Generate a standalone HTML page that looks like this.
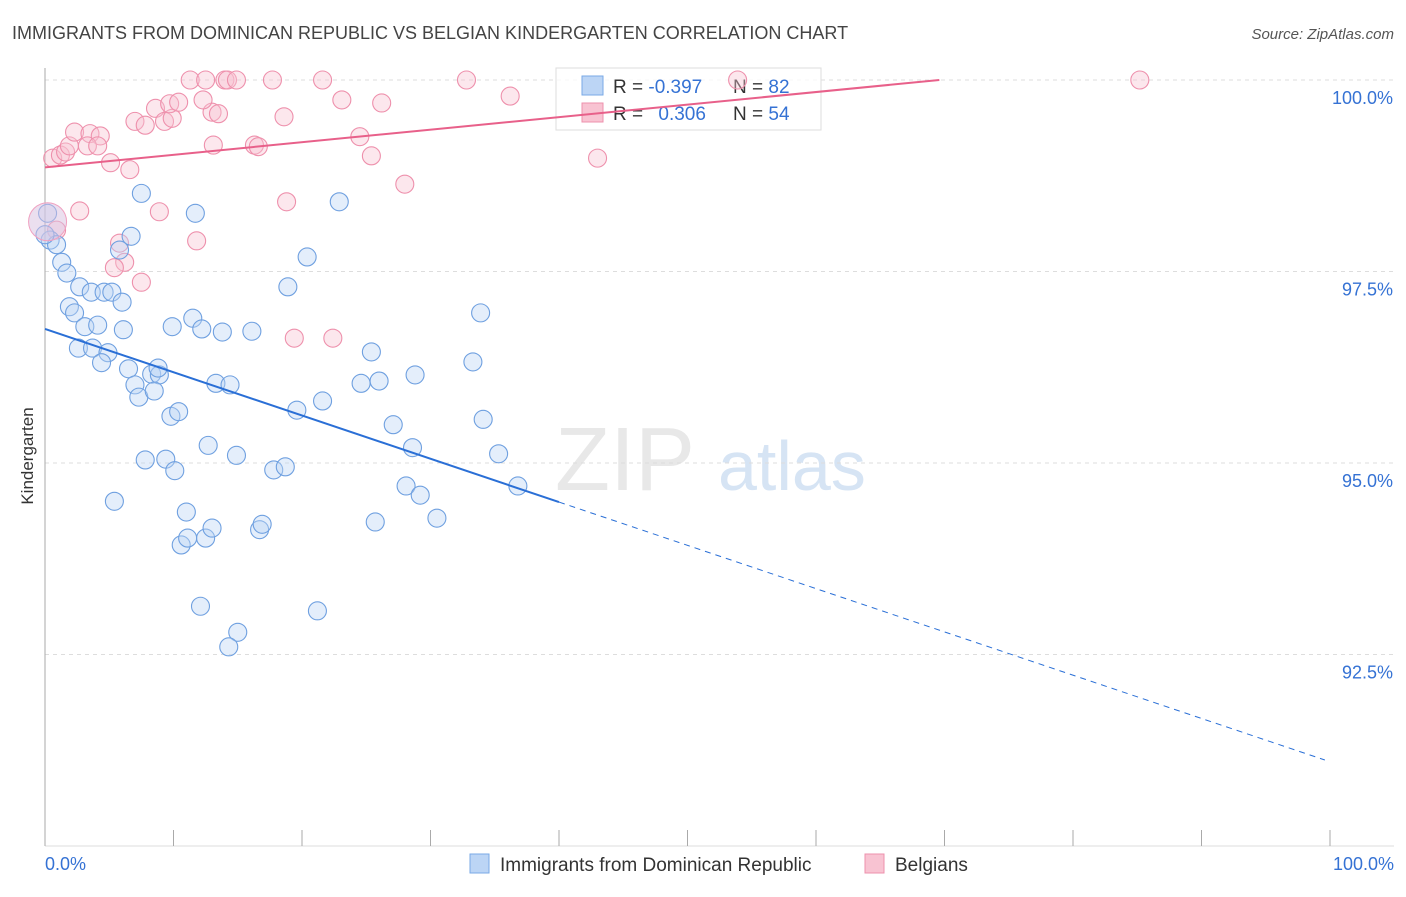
<!DOCTYPE html>
<html><head><meta charset="utf-8"><style>
body{margin:0;background:#fff;font-family:"Liberation Sans",sans-serif;}
svg text{font-family:"Liberation Sans",sans-serif;}
</style></head><body>
<svg id="chart" width="1406" height="892" xmlns="http://www.w3.org/2000/svg">
<text x="12" y="39" font-size="18" fill="#444">IMMIGRANTS FROM DOMINICAN REPUBLIC VS BELGIAN KINDERGARTEN CORRELATION CHART</text>
<text x="1394" y="39" font-size="15" fill="#555" text-anchor="end" font-style="italic">Source: ZipAtlas.com</text>
<text x="33" y="456" font-size="17" fill="#333" text-anchor="middle" transform="rotate(-90 33 456)">Kindergarten</text>
<g><text x="555" y="490" font-size="90" fill="#e8e8e8" font-family="Liberation Serif">ZIP</text><text x="718" y="490" font-size="70" fill="#d6e4f4">atlas</text></g>
<g id="grid"></g>
<g>
<rect x="556" y="68" width="265" height="62" fill="#fff" fill-opacity="0.75" stroke="#ddd"/>
<rect x="582" y="76" width="21" height="19" fill="#bcd5f5" stroke="#7aa9e6"/>
<rect x="582" y="103" width="21" height="19" fill="#f8c3d2" stroke="#ee90ac"/>
<text x="613" y="93" font-size="19" fill="#333">R = <tspan fill="#3572d4">-0.397</tspan></text>
<text x="733" y="93" font-size="19" fill="#333">N = <tspan fill="#3572d4">82</tspan></text>
<text x="613" y="120" font-size="19" fill="#333">R = <tspan fill="#3572d4" dx="10">0.306</tspan></text>
<text x="733" y="120" font-size="19" fill="#333">N = <tspan fill="#3572d4">54</tspan></text>
</g>
<g id="marks"></g><g id="lines"></g>
<g>
<rect x="470" y="854" width="19" height="19" fill="#bcd5f5" stroke="#7aa9e6"/>
<text x="500" y="871" font-size="19" fill="#333">Immigrants from Dominican Republic</text>
<rect x="865" y="854" width="19" height="19" fill="#f8c3d2" stroke="#ee90ac"/>
<text x="895" y="871" font-size="19" fill="#333">Belgians</text>
</g>
<text x="45" y="870" font-size="18" fill="#3572d4">0.0%</text>
<text x="1394" y="870" font-size="18" fill="#3572d4" text-anchor="end">100.0%</text>
</svg>
<script>
const yTicks=[100,97.5,95,92.5];
const yTickLabels=["100.0%","97.5%","95.0%","92.5%"];
const xTicks=[0,10,20,30,40,50,60,70,80,90,100];
const blueX=[0.2,0.4,0.9,1.3,1.7,2.7,3.6,4.6,5.2,6.0,1.9,2.3,3.1,4.1,6.1,2.6,3.7,4.9,4.4,6.5,7.0,7.3,8.3,8.9,8.8,8.5,9.8,10.4,7.8,9.4,10.1,9.9,11.5,12.2,13.8,16.1,13.3,14.4,12.7,14.9,11.0,10.6,11.1,12.5,13.0,16.7,16.9,12.1,15.0,14.3,5.4,7.5,11.7,6.7,5.8,18.9,20.4,22.9,19.6,21.6,24.6,26.0,25.4,27.1,28.8,28.6,28.1,29.2,30.5,25.7,33.3,33.9,34.1,35.3,36.8,17.8,18.7,21.2,0.0];
const blueY=[98.26,97.91,97.85,97.62,97.48,97.30,97.23,97.23,97.23,97.10,97.04,96.96,96.78,96.80,96.74,96.50,96.50,96.44,96.31,96.23,96.02,95.86,96.16,96.15,96.24,95.94,95.61,95.67,95.04,95.05,94.90,96.78,96.89,96.75,96.71,96.72,96.04,96.02,95.23,95.10,94.36,93.93,94.02,94.02,94.15,94.13,94.20,93.13,92.79,92.60,94.50,98.52,98.26,97.96,97.78,97.30,97.69,98.41,95.69,95.81,96.04,96.07,96.45,95.50,96.15,95.20,94.70,94.58,94.28,94.23,96.32,96.96,95.57,95.12,94.70,94.91,94.95,93.07,97.98];
const pinkX=[0.6,1.2,1.6,1.9,2.3,3.5,4.3,3.3,4.1,5.1,6.6,7.0,7.8,8.6,9.3,9.9,9.7,10.4,11.3,12.5,13.0,12.3,13.5,14.0,14.2,14.9,13.1,16.3,16.6,17.7,21.6,23.1,26.2,24.5,25.4,28.0,18.6,18.8,32.8,36.2,43.0,85.2,2.7,8.9,11.8,5.8,6.2,5.4,7.5,19.4,22.4,53.9,0.9];
const pinkY=[98.98,99.02,99.06,99.14,99.32,99.30,99.27,99.14,99.14,98.92,98.83,99.46,99.41,99.63,99.46,99.50,99.69,99.71,100,100,99.58,99.74,99.56,100,100,100,99.15,99.15,99.13,100,100,99.74,99.70,99.26,99.01,98.64,99.52,98.41,100,99.79,98.98,100,98.29,98.28,97.90,97.87,97.62,97.55,97.36,96.63,96.63,100,98.04];
const blueTrend=[96.75,-0.0565];
const pinkTrend=[98.86,0.01638];
const X0=45,X1=1330,Y0=80,Y1=846;
const sx=v=>X0+(X1-X0)*v/100;
const sy=v=>Y0+(Y1-Y0)*(100-v)/10;
const NS="http://www.w3.org/2000/svg";
function mk(tag,attrs,parent){const e=document.createElementNS(NS,tag);for(const k in attrs)e.setAttribute(k,attrs[k]);parent.appendChild(e);return e;}
const grid=document.getElementById('grid'),marks=document.getElementById('marks'),lines=document.getElementById('lines');
yTicks.forEach((t,i)=>{
 const l=mk('line',{x1:X0,x2:1394,y1:sy(t),y2:sy(t),stroke:'#ddd','stroke-dasharray':'4,4'},grid);
 
 
 const tx=mk('text',{x:1393,y:sy(t)+24,'font-size':18,fill:'#3572d4','text-anchor':'end'},grid);
 tx.textContent=yTickLabels[i];
 
 
});
const ya=mk('line',{x1:X0,x2:X0,y1:68,y2:846,stroke:'#aaa'},grid);


const xa=mk('line',{x1:X0,x2:1394,y1:846,y2:846,stroke:'#ddd'},grid);


xTicks.forEach(t=>{
 const l=mk('line',{x1:sx(t),x2:sx(t),y1:830,y2:846,stroke:'#aaa'},grid);
 
 
});
function dots(xs,ys,fill,stroke,name){
 xs.forEach((x,i)=>{
  const c=mk('circle',{cx:sx(x),cy:sy(ys[i]),r:9,fill:fill,'fill-opacity':0.4,stroke:stroke,'stroke-width':1.1},marks);
  
  
 });
}
dots(pinkX,pinkY,'#f8c3d2','#ee90ac','belgians-point');
dots(blueX,blueY,'#bcd5f5','#6fa0e0','dominican-point');
const big=mk('circle',{cx:sx(0.2),cy:sy(98.15),r:19,fill:'#d8c0e0','fill-opacity':0.5,stroke:'#f0a0c0'},marks);


const bf=x=>blueTrend[0]+blueTrend[1]*x;
let l1=mk('line',{x1:sx(0),y1:sy(bf(0)),x2:sx(40),y2:sy(bf(40)),stroke:'#2a6fd6','stroke-width':2},lines);


let l2=mk('line',{x1:sx(40),y1:sy(bf(40)),x2:sx(99.6),y2:sy(bf(99.6)),stroke:'#2a6fd6','stroke-width':1,'stroke-dasharray':'6,5'},lines);


const pf=x=>pinkTrend[0]+pinkTrend[1]*x;
const pEnd=(100-pinkTrend[0])/pinkTrend[1];
let l3=mk('line',{x1:sx(0),y1:sy(pf(0)),x2:sx(pEnd),y2:sy(pf(pEnd)),stroke:'#e8608a','stroke-width':2},lines);


</script>
</body></html>
